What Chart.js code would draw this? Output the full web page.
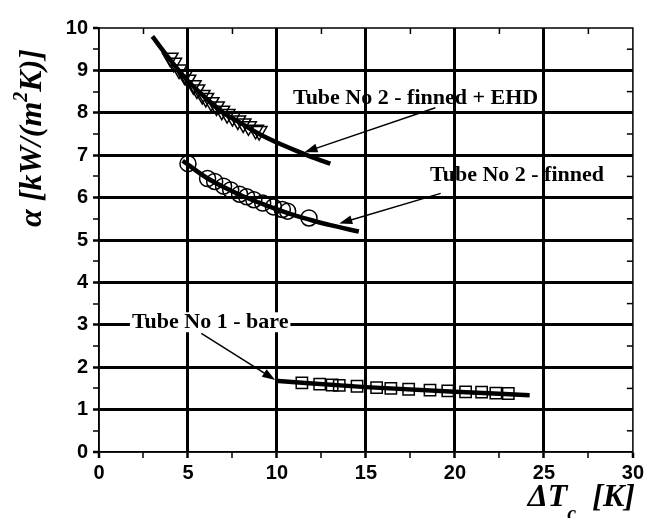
<!DOCTYPE html>
<html lang="en">
<head>
<meta charset="UTF-8">
<title>Heat transfer coefficient vs temperature difference</title>
<script src="https://cdn.jsdelivr.net/npm/chart.js"></script>
<style>
  html, body { margin: 0; padding: 0; background: #fff; }
  #wrap { width: 647px; height: 518px; }
</style>
</head>
<body>
<div id="wrap"><canvas id="myChart" width="647" height="518"></canvas></div>
<script>
// Tube No 2 - finned + EHD : measured points (triangles) and fitted curve
const ehdX = [4.0, 4.2, 4.5, 4.8, 5.0, 5.3, 5.5, 5.8, 6.0, 6.3, 6.6, 6.9, 7.2, 7.5, 7.8, 8.1, 8.4, 8.8, 9.0];
const ehdY = [9.30, 9.18, 9.02, 8.88, 8.78, 8.65, 8.55, 8.42, 8.35, 8.25, 8.15, 8.05, 7.97, 7.90, 7.82, 7.75, 7.68, 7.60, 7.57];
const ehdFitX = [3.0, 4.0, 5.0, 6.0, 7.0, 8.0, 9.0, 10.0, 11.0, 12.0, 13.0];
const ehdFitY = [9.80, 9.25, 8.75, 8.35, 8.00, 7.75, 7.50, 7.30, 7.12, 6.95, 6.80];

// Tube No 2 - finned : circles and fitted curve
const finX = [5.0, 6.1, 6.5, 7.0, 7.4, 7.9, 8.3, 8.7, 9.2, 9.8, 10.3, 10.6, 11.8];
const finY = [6.80, 6.45, 6.38, 6.27, 6.18, 6.08, 6.02, 5.95, 5.87, 5.78, 5.72, 5.68, 5.52];
const finFitX = [4.7, 6.0, 7.0, 8.0, 9.0, 10.0, 11.0, 12.0, 13.0, 14.6];
const finFitY = [6.87, 6.48, 6.25, 6.05, 5.88, 5.72, 5.58, 5.46, 5.35, 5.20];

// Tube No 1 - bare : squares and fitted curve
const bareX = [11.4, 12.4, 13.1, 13.5, 14.5, 15.6, 16.4, 17.4, 18.6, 19.6, 20.6, 21.5, 22.3, 23.0];
const bareY = [1.63, 1.60, 1.58, 1.57, 1.55, 1.52, 1.50, 1.48, 1.46, 1.44, 1.42, 1.41, 1.39, 1.38];
const bareFitX = [9.9, 15.0, 20.0, 24.2];
const bareFitY = [1.68, 1.53, 1.42, 1.34];

// axis ticks
const xMax = 30, xMajor = 5, xMinor = 2.5;
const yMax = 10, yMajor = 1, yMinor = 0.5;

function pts(xs, ys) { return xs.map((x, i) => ({x: x, y: ys[i]})); }

function fitLine(xs, ys) {
  return { data: pts(xs, ys), showLine: true, pointRadius: 0, borderColor: '#000',
           borderWidth: 4.5, cubicInterpolationMode: 'monotone', fill: false };
}
function marks(xs, ys, style, r, rot) {
  return { data: pts(xs, ys), showLine: false, pointStyle: style, pointRadius: r,
           rotation: rot || 0, borderColor: '#000', borderWidth: 1.5,
           backgroundColor: 'rgba(0,0,0,0)' };
}

function arrow(ctx, x1, y1, x2, y2) {
  const ang = Math.atan2(y2 - y1, x2 - x1);
  const L = 13, W = 4.5;
  ctx.beginPath();
  ctx.moveTo(x1, y1);
  ctx.lineTo(x2 - L * 0.8 * Math.cos(ang), y2 - L * 0.8 * Math.sin(ang));
  ctx.stroke();
  ctx.beginPath();
  ctx.moveTo(x2, y2);
  ctx.lineTo(x2 - L * Math.cos(ang) + W * Math.sin(ang), y2 - L * Math.sin(ang) - W * Math.cos(ang));
  ctx.lineTo(x2 - L * Math.cos(ang) - W * Math.sin(ang), y2 - L * Math.sin(ang) + W * Math.cos(ang));
  ctx.closePath();
  ctx.fill();
}

// draws runs of text with different fonts / vertical shifts side by side
function runs(ctx, parts, x0, yb) {
  let cx = x0;
  parts.forEach(p => { ctx.font = p[1]; ctx.fillText(p[0], cx, yb + p[2]); cx += ctx.measureText(p[0]).width; });
}
function runsWidth(ctx, parts) {
  let w = 0;
  parts.forEach(p => { ctx.font = p[1]; w += ctx.measureText(p[0]).width; });
  return w;
}

const extras = {
  id: 'extras',
  afterDatasetsDraw(chart) {
    const {ctx, chartArea: a, scales: {x, y}} = chart;
    ctx.save();
    ctx.strokeStyle = '#000';
    ctx.fillStyle = '#000';

    // frame and inward minor ticks on top / right
    ctx.lineWidth = 1.5;
    ctx.strokeRect(a.left, a.top, a.right - a.left, a.bottom - a.top);
    for (let v = xMinor; v < xMax; v += xMajor) {
      const px = x.getPixelForValue(v);
      ctx.beginPath(); ctx.moveTo(px, a.top); ctx.lineTo(px, a.top + 6); ctx.stroke();
    }
    for (let v = yMinor; v < yMax; v += yMajor) {
      const py = y.getPixelForValue(v);
      ctx.beginPath(); ctx.moveTo(a.right, py); ctx.lineTo(a.right - 6, py); ctx.stroke();
    }

    // curve labels
    ctx.font = 'bold 22px "Liberation Serif"';
    ctx.textBaseline = 'middle';
    ctx.textAlign = 'left';

    let t = 'Tube No 2 - finned + EHD';
    ctx.fillText(t, x.getPixelForValue(10.9), y.getPixelForValue(8.35));
    ctx.lineWidth = 1.5;
    arrow(ctx, x.getPixelForValue(18.9), y.getPixelForValue(8.12),
               x.getPixelForValue(11.55), y.getPixelForValue(7.07));

    t = 'Tube No 2 - finned';
    ctx.fillText(t, x.getPixelForValue(18.6), y.getPixelForValue(6.52));
    arrow(ctx, x.getPixelForValue(19.2), y.getPixelForValue(6.1),
               x.getPixelForValue(13.5), y.getPixelForValue(5.39));

    t = 'Tube No 1 - bare';
    const bx = x.getPixelForValue(1.85), by = y.getPixelForValue(3.06);
    const w = ctx.measureText(t).width;
    ctx.fillStyle = '#fff';
    ctx.fillRect(bx - 2, by - 10, w + 4, 20);
    ctx.fillStyle = '#000';
    ctx.fillText(t, bx, by);
    arrow(ctx, x.getPixelForValue(5.75), y.getPixelForValue(2.8),
               x.getPixelForValue(9.9), y.getPixelForValue(1.7));

    const big = 'italic bold 32px "Liberation Serif"', sup = 'italic bold 20px "Liberation Serif"';
    ctx.textBaseline = 'alphabetic';

    // y axis title: alpha [kW/(m^2 K)]
    ctx.save();
    ctx.translate(41, 138);
    ctx.rotate(-Math.PI / 2);
    const yParts = [['\u03b1 [kW/(m', big, 0], ['2', sup, -14], ['K)]', big, 0]];
    runs(ctx, yParts, -runsWidth(ctx, yParts) / 2, 0);
    ctx.restore();

    // x axis title: dT_c [K], right aligned with the frame
    const xParts = [['\u0394T', big, 0], ['c', sup, 14], ['\u2002[K]', big, 0]];
    runs(ctx, xParts, a.right + 2 - runsWidth(ctx, xParts), 506);

    ctx.restore();
  }
};

const isMult = (v, m) => Math.abs(v / m - Math.round(v / m)) < 1e-6;

const config = {
  type: 'scatter',
  data: {
    datasets: [
      fitLine(ehdFitX, ehdFitY),
      marks(ehdX, ehdY, 'triangle', 9, 180),
      fitLine(finFitX, finFitY),
      marks(finX, finY, 'circle', 8),
      fitLine(bareFitX, bareFitY),
      marks(bareX, bareY, 'rect', 8)
    ]
  },
  options: {
    responsive: false,
    animation: false,
    layout: { padding: { top: 28, right: 13, left: 0, bottom: 0 } },
    plugins: { legend: { display: false }, tooltip: { enabled: false } },
    scales: {
      x: {
        type: 'linear', min: 0, max: xMax,
        border: { display: true, color: '#000', width: 1.5 },
        grid: {
          color: '#000',
          lineWidth: c => (c.tick && isMult(c.tick.value, xMajor) && c.tick.value > 0 && c.tick.value < xMax) ? 3 : 0,
          tickWidth: c => (c.tick && isMult(c.tick.value, xMajor)) ? 2.5 : 1.5,
          tickColor: '#000',
          tickLength: 6
        },
        ticks: {
          stepSize: xMinor, autoSkip: false, maxRotation: 0, color: '#000', padding: 3,
          font: { family: '"Liberation Sans"', size: 20, weight: 'bold' },
          callback: v => isMult(v, xMajor) ? v : ''
        },
        afterFit: s => { s.height = 66; }
      },
      y: {
        type: 'linear', min: 0, max: yMax,
        border: { display: true, color: '#000', width: 1.5 },
        grid: {
          color: '#000',
          lineWidth: c => (c.tick && isMult(c.tick.value, yMajor) && c.tick.value > 0 && c.tick.value < yMax) ? 3 : 0,
          tickWidth: c => (c.tick && isMult(c.tick.value, yMajor)) ? 2.5 : 1.5,
          tickColor: '#000',
          tickLength: 6
        },
        ticks: {
          stepSize: yMinor, autoSkip: false, color: '#000', padding: 5,
          font: { family: '"Liberation Sans"', size: 20, weight: 'bold' },
          callback: v => isMult(v, yMajor) ? v : ''
        },
        afterFit: s => { s.width = 99; }
      }
    }
  },
  plugins: [extras]
};

const ctx = document.getElementById('myChart').getContext('2d');
const myChart = new Chart(ctx, config);
</script>
</body>
</html>
